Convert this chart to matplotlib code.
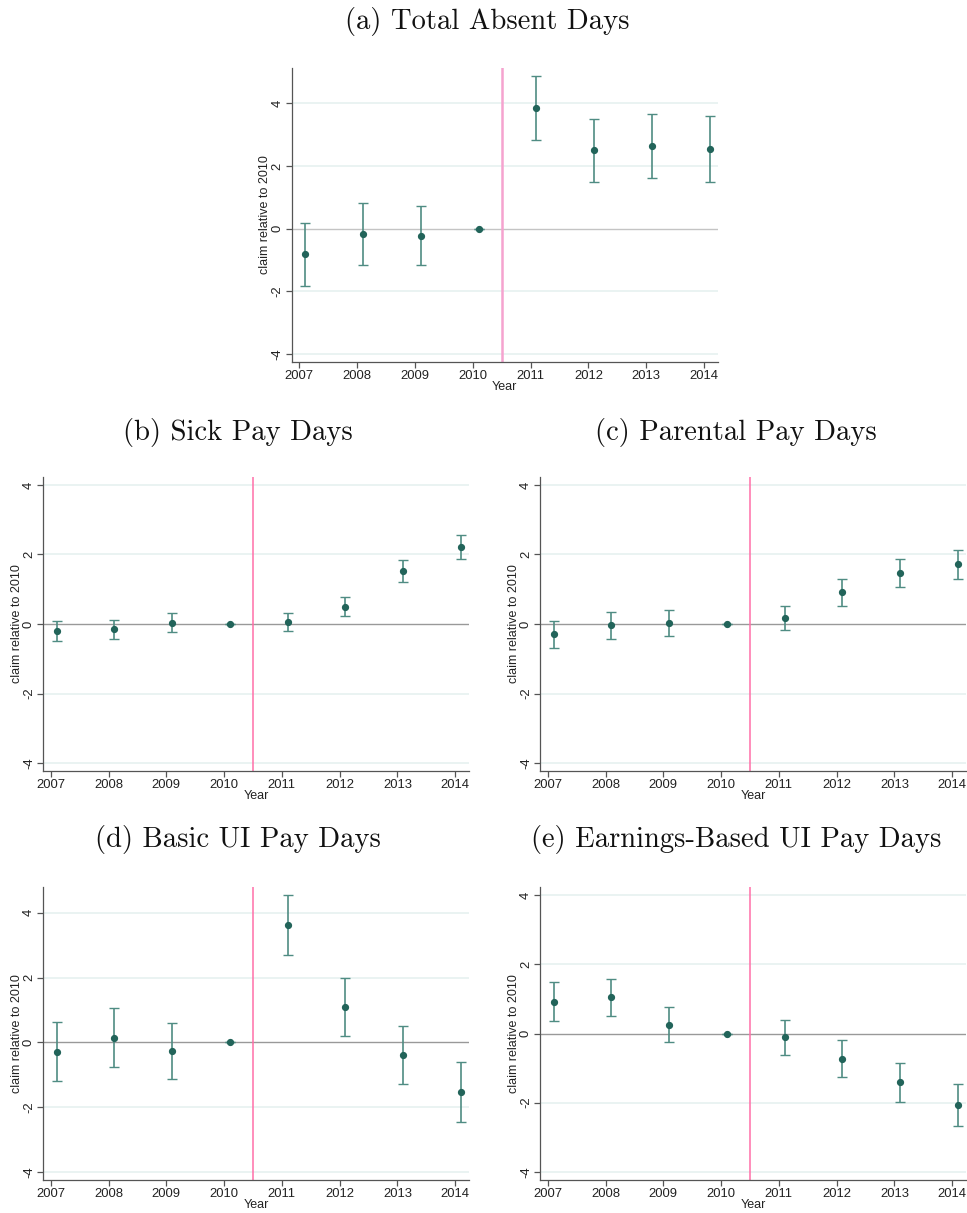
import matplotlib
matplotlib.use("Agg")
import matplotlib.pyplot as plt
import numpy as np

plt.rcParams["font.family"] = ["Liberation Sans", "DejaVu Sans"]
plt.rcParams["axes.unicode_minus"] = False

years = [2007, 2008, 2009, 2010, 2011, 2012, 2013, 2014]

# point estimates and 95% bounds per outcome
total_est = [-0.82, -0.16, -0.22, 0.0, 3.83, 2.51, 2.62, 2.53]
total_hi = [0.19, 0.83, 0.73, 0.0, 4.85, 3.50, 3.64, 3.58]
total_lo = [-1.82, -1.15, -1.17, 0.0, 2.84, 1.50, 1.61, 1.48]

sick_est = [-0.19, -0.15, 0.04, 0.0, 0.06, 0.50, 1.52, 2.23]
sick_hi = [0.08, 0.11, 0.31, 0.0, 0.31, 0.77, 1.83, 2.56]
sick_lo = [-0.48, -0.42, -0.23, 0.0, -0.19, 0.23, 1.21, 1.88]

parental_est = [-0.30, -0.04, 0.03, 0.0, 0.17, 0.91, 1.46, 1.72]
parental_hi = [0.08, 0.34, 0.39, 0.0, 0.52, 1.30, 1.87, 2.12]
parental_lo = [-0.69, -0.43, -0.34, 0.0, -0.18, 0.52, 1.06, 1.30]

basic_est = [-0.28, 0.14, -0.26, 0.0, 3.62, 1.10, -0.39, -1.52]
basic_hi = [0.63, 1.05, 0.61, 0.0, 4.55, 2.00, 0.51, -0.59]
basic_lo = [-1.18, -0.76, -1.12, 0.0, 2.69, 0.21, -1.29, -2.45]

earn_est = [0.92, 1.05, 0.26, 0.0, -0.11, -0.73, -1.41, -2.08]
earn_hi = [1.50, 1.58, 0.77, 0.0, 0.40, -0.19, -0.84, -1.47]
earn_lo = [0.35, 0.51, -0.24, 0.0, -0.62, -1.26, -1.99, -2.69]

W, H = 967, 1213
fig = plt.figure(figsize=(W / 100, H / 100), dpi=100)


def make_axes(left, right, top, bottom):
    return fig.add_axes([left / W, 1 - bottom / H, (right - left) / W, (bottom - top) / H])


def event_plot(ax, est, lo, hi, ylim, vcolor, vwidth, zcolor):
    x = np.array(years) + 0.1
    est = np.array(est)
    yerr = [est - np.array(lo), np.array(hi) - est]
    for yy in [-4, -2, 2, 4]:
        ax.axhline(yy, color="#e6f1f0", lw=1.2, zorder=0)
    ax.axhline(0, color=zcolor, lw=1.0, zorder=1)
    ax.axvline(2010.5, color=vcolor, lw=vwidth, zorder=1)
    ax.errorbar(x, est, yerr=yerr, fmt="none", ecolor="#4f8c83", elinewidth=1.2,
                capsize=3.5, capthick=1.0, zorder=2)
    ax.plot(x, est, "o", color="#22645a", ms=4.2, zorder=3)
    ax.set_xlim(2006.87, 2014.24)
    ax.set_ylim(*ylim)
    ax.set_xticks(years)
    ax.set_yticks([-4, -2, 0, 2, 4])
    ax.set_yticklabels(["-4", "-2", "0", "2", "4"], rotation=90, va="center")
    for s in ["top", "right"]:
        ax.spines[s].set_visible(False)
    for s in ["left", "bottom"]:
        ax.spines[s].set_color("#555555")
        ax.spines[s].set_linewidth(0.9)
    ax.tick_params(axis="both", labelsize=9.4, color="#555555", length=4, width=0.9,
                   pad=2, labelcolor="#222222")
    ax.set_xlabel("Year", fontsize=9, labelpad=-1, color="#222222")
    ax.set_ylabel("claim relative to 2010", fontsize=9, labelpad=0, color="#222222")


title_font = dict(family="cmr10", fontsize=20.6, ha="center", va="center", color="#111111")

ax_a = make_axes(291.7, 718, 68, 362)
event_plot(ax_a, total_est, total_lo, total_hi, (-4.25, 5.12), "#f5a3cf", 1.8, "#c4c4c4")
fig.text(487 / W, 1 - 22 / H, "(a) Total Absent Days", **title_font)

ax_b = make_axes(43.3, 469, 477, 771)
event_plot(ax_b, sick_est, sick_lo, sick_hi, (-4.23, 4.23), "#ff6fa8", 1.1, "#999999")
fig.text(238 / W, 1 - 432 / H, "(b) Sick Pay Days", **title_font)

ax_c = make_axes(540.3, 966, 477, 771)
event_plot(ax_c, parental_est, parental_lo, parental_hi, (-4.23, 4.23), "#ff6fa8", 1.1, "#999999")
fig.text(736 / W, 1 - 432 / H, "(c) Parental Pay Days", **title_font)

ax_d = make_axes(43.3, 469, 887, 1180)
event_plot(ax_d, basic_est, basic_lo, basic_hi, (-4.24, 4.79), "#ff6fa8", 1.1, "#999999")
fig.text(238 / W, 1 - 840 / H, "(d) Basic UI Pay Days", **title_font)

ax_e = make_axes(540.3, 966, 887, 1180)
event_plot(ax_e, earn_est, earn_lo, earn_hi, (-4.24, 4.24), "#ff6fa8", 1.1, "#999999")
fig.text(736 / W, 1 - 840 / H, "(e) Earnings-Based UI Pay Days", **title_font)

fig.savefig("out.png", dpi=100)
